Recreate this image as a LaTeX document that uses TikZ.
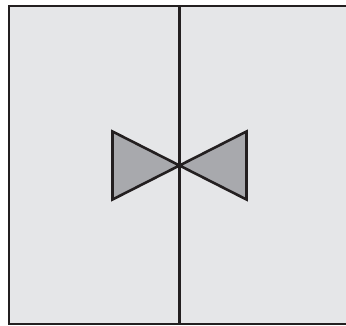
\documentclass[tikz,border=0pt]{standalone}
\usepackage{tikz}
\definecolor{panelgray}{RGB}{229, 230, 232}
\definecolor{valvegray}{RGB}{168, 169, 173}
\definecolor{inkblack}{RGB}{35, 31, 32}

\begin{document}
\begin{tikzpicture}[x=1pt, y=-1pt,
    panel/.style={draw=inkblack, fill=panelgray, line width=2.4pt},
    pipe/.style={draw=inkblack, line width=3.2pt},
    valvehalf/.style={draw=inkblack, fill=valvegray, line width=2.6pt, line join=miter}]
    \useasboundingbox (0,0) rectangle (346,326);
    \clip (0,0) rectangle (346,326);
    % panel, open at the right
    \draw[panel] (9,6) rectangle (352,324);
    % pipe through the middle
    \coordinate (top) at (179.5,6);
    \coordinate (bot) at (179.5,324);
    \coordinate (c) at (179.5,165.5);
    \draw[pipe] (top) -- (bot);
    % valve
    \draw[valvehalf] (c) -- (112.5,131.5) -- (112.5,199.5) -- cycle;
    \draw[valvehalf] (c) -- (246.5,131.5) -- (246.5,199.5) -- cycle;
\end{tikzpicture}
\end{document}
